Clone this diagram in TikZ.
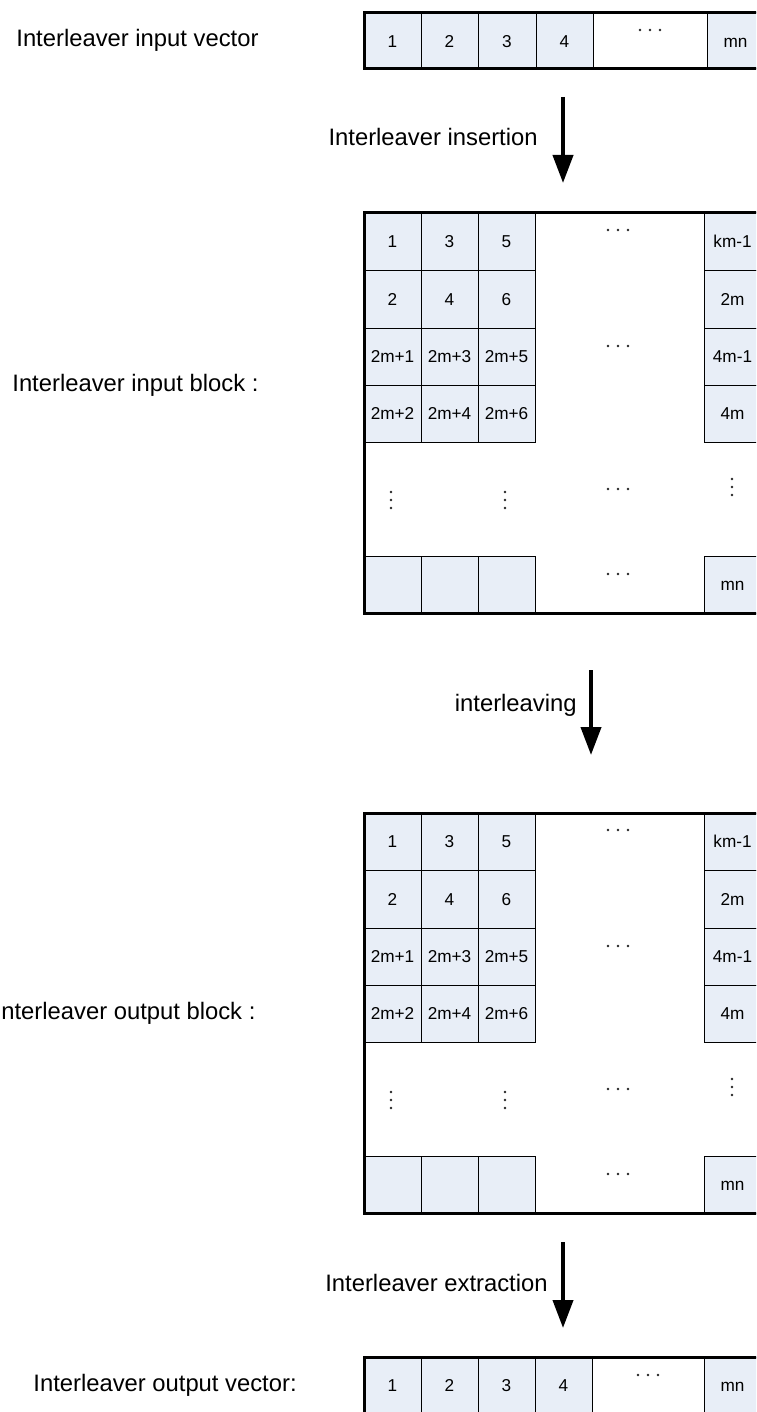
\documentclass[tikz,border=0pt]{standalone}
\usepackage{fontspec}
\setmainfont{Liberation Sans}
\usetikzlibrary{arrows.meta}
\definecolor{cellblue}{RGB}{232,238,247}
\tikzset{
 cell/.style={draw=black, line width=0.5pt, fill=cellblue, inner sep=0pt, text height=6.2pt, text depth=0pt, font=\fontsize{8.6}{10}\selectfont},
 outer/.style={draw=black, line width=1.5pt},
 lbl/.style={font=\fontsize{11.9}{14}\selectfont, inner sep=0pt},
 bigarrow/.style={line width=2pt, -{Triangle[width=10pt,length=14pt]}},
 dotc/.style={fill=black!85},
}
\newcommand\mycell[6]{\node[cell, minimum width={((#4)-(#2))*0.5pt}, minimum height={((#5)-(#3))*0.5pt}] (#1) at ({((#2)+(#4))/2},{((#3)+(#5))/2}) {#6};}
\newcommand\hdotz[2]{\fill[dotc] ({(#1)-10},{#2}) circle (0.65pt) ({#1},{#2}) circle (0.65pt) ({(#1)+10},{#2}) circle (0.65pt);}
\newcommand\vdotz[2]{\fill[dotc] ({#1},{(#2)-8}) circle (0.65pt) ({#1},{#2}) circle (0.65pt) ({#1},{(#2)+8}) circle (0.65pt);}
\newcommand\blockgrid[2]{%
 \mycell{#1a1}{364}{213+#2}{421}{270+#2}{1}
 \mycell{#1a2}{421}{213+#2}{478}{270+#2}{3}
 \mycell{#1a3}{478}{213+#2}{535}{270+#2}{5}
 \mycell{#1a4}{704}{213+#2}{761}{270+#2}{km-1}
 \mycell{#1b1}{364}{270+#2}{421}{328+#2}{2}
 \mycell{#1b2}{421}{270+#2}{478}{328+#2}{4}
 \mycell{#1b3}{478}{270+#2}{535}{328+#2}{6}
 \mycell{#1b4}{704}{270+#2}{761}{328+#2}{2m}
 \mycell{#1c1}{364}{328+#2}{421}{385+#2}{2m+1}
 \mycell{#1c2}{421}{328+#2}{478}{385+#2}{2m+3}
 \mycell{#1c3}{478}{328+#2}{535}{385+#2}{2m+5}
 \mycell{#1c4}{704}{328+#2}{761}{385+#2}{4m-1}
 \mycell{#1d1}{364}{385+#2}{421}{442+#2}{2m+2}
 \mycell{#1d2}{421}{385+#2}{478}{442+#2}{2m+4}
 \mycell{#1d3}{478}{385+#2}{535}{442+#2}{2m+6}
 \mycell{#1d4}{704}{385+#2}{761}{442+#2}{4m}
 \mycell{#1e1}{364}{556+#2}{421}{613+#2}{}
 \mycell{#1e2}{421}{556+#2}{478}{613+#2}{}
 \mycell{#1e3}{478}{556+#2}{535}{613+#2}{}
 \mycell{#1e4}{704}{556+#2}{761}{613+#2}{mn}
 \draw[outer] (770,{213+#2}) -- (364,{213+#2}) -- (364,{613+#2}) -- (770,{613+#2});
 \hdotz{618}{230+#2}
 \hdotz{618}{346+#2}
 \hdotz{618}{489+#2}
 \hdotz{618}{574+#2}
 \vdotz{391}{500+#2}
 \vdotz{505}{500+#2}
 \vdotz{732}{487+#2}
}
\begin{document}
\begin{tikzpicture}[x=0.5pt,y=-0.5pt]
\useasboundingbox (0,0) rectangle (756,1412);
\clip (0,0) rectangle (756,1412);
\fill[white] (0,0) rectangle (756,1412);

% input vector
\node[lbl, anchor=west] (linvec) at (16,40) {Interleaver input vector};
\mycell{v1a}{364}{13}{421}{69}{1}
\mycell{v1b}{421}{13}{478}{69}{2}
\mycell{v1c}{478}{13}{536}{69}{3}
\mycell{v1d}{536}{13}{593}{69}{4}
\mycell{v1e}{707}{13}{764}{69}{mn}
\draw[outer] (770,13) -- (364,13) -- (364,69) -- (770,69);
\hdotz{650}{30}

% arrow 1
\coordinate (a1s) at (563,97);
\coordinate (a1e) at (563,183);
\draw[bigarrow] (a1s) -- (a1e);
\node[lbl, anchor=east] (l1) at (538,137) {Interleaver insertion};

% input block
\node[lbl, anchor=west] (linblk) at (12,385) {Interleaver input block :};
\blockgrid{p}{0}

% arrow 2
\coordinate (a2s) at (591,670);
\coordinate (a2e) at (591,755);
\draw[bigarrow] (a2s) -- (a2e);
\node[lbl, anchor=east] (l2) at (577,705) {interleaving};

% output block
\node[lbl, anchor=west] (loutblk) at (1,1013) {nterleaver output block :};
\blockgrid{q}{600}

% arrow 3
\coordinate (a3s) at (563,1242);
\coordinate (a3e) at (563,1328);
\draw[bigarrow] (a3s) -- (a3e);
\node[lbl, anchor=east] (l3) at (548,1283) {Interleaver extraction};

% output vector
\node[lbl, anchor=west] (loutvec) at (33,1385) {Interleaver output vector:};
\mycell{v2a}{364}{1357}{421}{1414}{1}
\mycell{v2b}{421}{1357}{478}{1414}{2}
\mycell{v2c}{478}{1357}{535}{1414}{3}
\mycell{v2d}{535}{1357}{592}{1414}{4}
\mycell{v2e}{704}{1357}{761}{1414}{mn}
\draw[outer] (770,1357) -- (364,1357) -- (364,1416);
\hdotz{648}{1375}
\end{tikzpicture}
\end{document}
